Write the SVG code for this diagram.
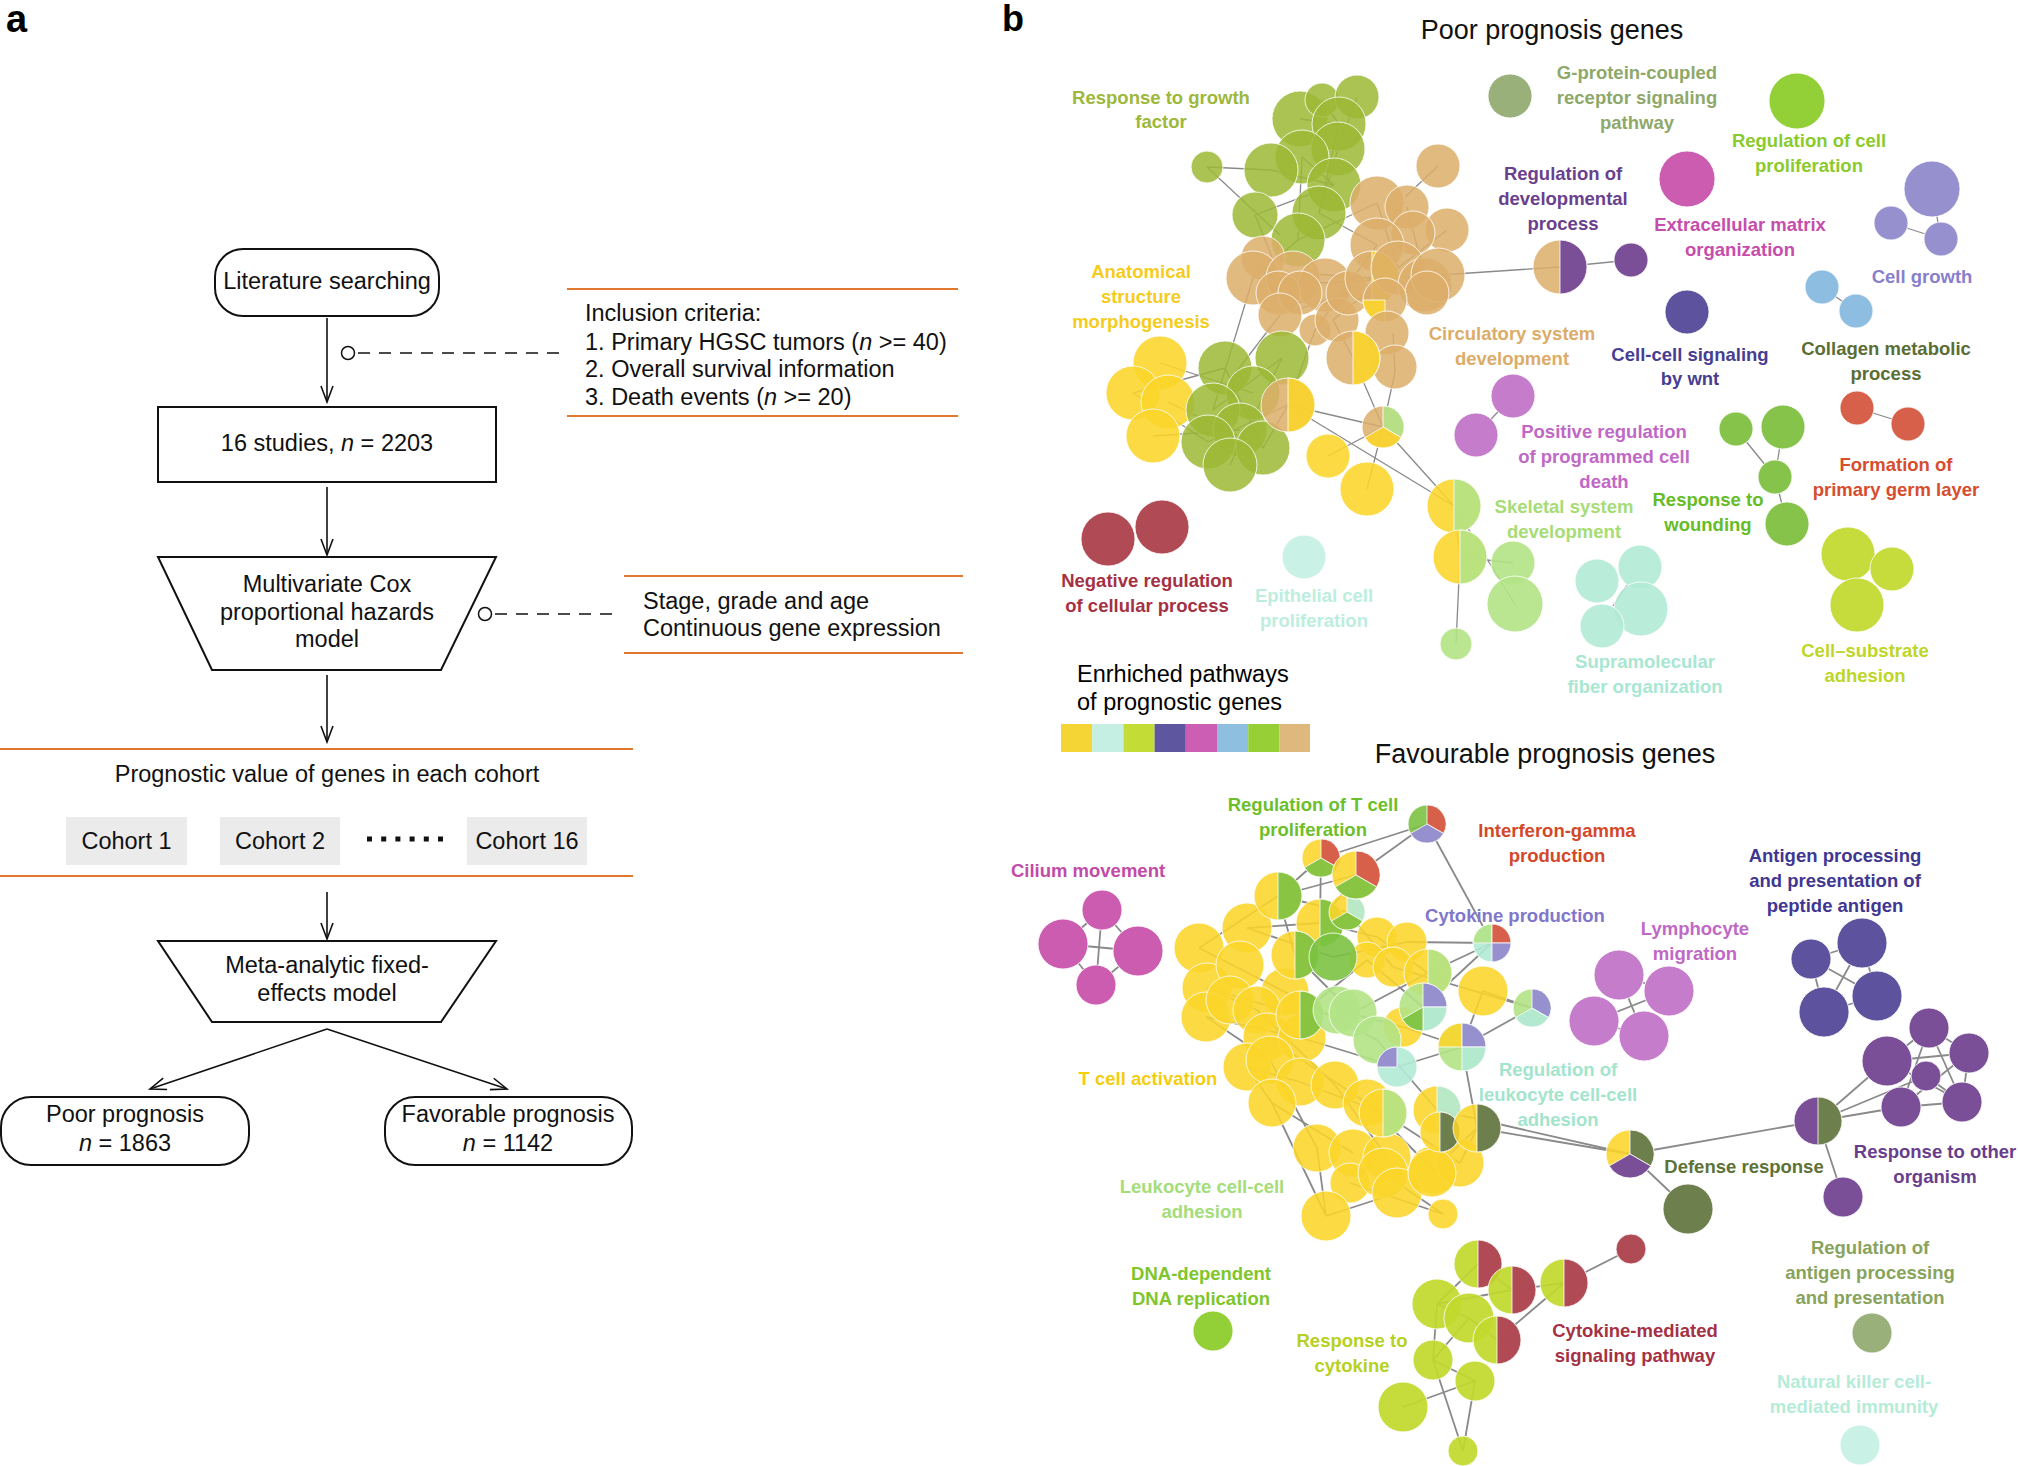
<svg xmlns="http://www.w3.org/2000/svg" width="2018" height="1466" viewBox="0 0 2018 1466">
<defs>
<style>
text{font-family:"Liberation Sans",Arial,sans-serif}
.ft{font-size:23.5px;fill:#111}
.fm{text-anchor:middle}
.bx{fill:#fff;stroke:#111;stroke-width:2}
.cb{fill:#ebebeb}
.or{stroke:#e0782f;stroke-width:2}
.ar{stroke:#111;stroke-width:1.6;fill:none}
.dl{stroke:#111;stroke-width:1.5;stroke-dasharray:12 9}
.lb{font-size:18.5px;font-weight:bold;text-anchor:middle}
.ttl{font-size:27px;fill:#111}
.e line{stroke:#8a8a8a;stroke-width:1.3}
.eb line{stroke:#8a8a8a;stroke-width:1.8}
.n circle,.n path{stroke:#fff;stroke-width:1;stroke-opacity:.8}
.y{fill:#fbd52a;fill-opacity:.88}
.ol{fill:#9cb935;fill-opacity:.85}
.t{fill:#dcae6a;fill-opacity:.85}
.lg{fill:#b3e386;fill-opacity:.9}
.mt{fill:#b2ead6;fill-opacity:.9}
.li{fill:#c1d92c;fill-opacity:.92}
.in{fill:#5c529d}
.mg{fill:#cb5cb0}
.lbl{fill:#8dbde0}
.gr{fill:#93cf36}
.gw{fill:#86c34b}
.gt{fill:#7cc242;fill-opacity:.9}
.dr{fill:#b04b56}
.pu{fill:#7a4f98}
.sg{fill:#9ab07a}
.ro{fill:#d6604a}
.lv{fill:#9690cf}
.do{fill:#6e7f4e}
.oc{fill:#c57dcb}
</style>
<marker id="ah" viewBox="-18 -8 20 16" refX="0" refY="0" markerWidth="20" markerHeight="16" markerUnits="userSpaceOnUse" orient="auto">
<path d="M-16,-6 L0,0 L-16,6" fill="none" stroke="#111" stroke-width="1.6"/>
</marker>
</defs>
<rect width="2018" height="1466" fill="#fff"/>

<!-- Panel a -->
<text x="6" y="32" style="font-size:38px;font-weight:bold">a</text>

<g id="connectors-a">
<line class="ar" x1="327" y1="318" x2="327" y2="402" marker-end="url(#ah)"/>
<line class="ar" x1="327" y1="487" x2="327" y2="555" marker-end="url(#ah)"/>
<line class="ar" x1="327" y1="675" x2="327" y2="742" marker-end="url(#ah)"/>
<line class="ar" x1="327" y1="892" x2="327" y2="939" marker-end="url(#ah)"/>
<line class="ar" x1="327" y1="1029" x2="150" y2="1089" marker-end="url(#ah)"/>
<line class="ar" x1="327" y1="1029" x2="507" y2="1089" marker-end="url(#ah)"/>
<circle cx="348" cy="353" r="6.5" fill="none" stroke="#111" stroke-width="1.5"/>
<line class="dl" x1="358" y1="353" x2="567" y2="353"/>
<circle cx="485" cy="614" r="6.5" fill="none" stroke="#111" stroke-width="1.5"/>
<line class="dl" x1="495" y1="614" x2="613" y2="614"/>
</g>

<g id="node-literature">
<rect class="bx" x="215" y="249" width="224" height="67" rx="28"/>
<text class="ft fm" x="327" y="289">Literature searching</text>
</g>
<g id="node-inclusion">
<line class="or" x1="567" y1="289" x2="958" y2="289"/>
<line class="or" x1="567" y1="416" x2="958" y2="416"/>
<text class="ft" x="585" y="321">Inclusion criteria:</text>
<text class="ft" x="585" y="350">1. Primary HGSC tumors (<tspan font-style="italic">n</tspan> &gt;= 40)</text>
<text class="ft" x="585" y="377">2. Overall survival information</text>
<text class="ft" x="585" y="405">3. Death events (<tspan font-style="italic">n</tspan> &gt;= 20)</text>
</g>
<g id="node-studies">
<rect class="bx" x="158" y="407" width="338" height="75"/>
<text class="ft fm" x="327" y="451">16 studies, <tspan font-style="italic">n</tspan> = 2203</text>
</g>
<g id="node-cox">
<polygon class="bx" points="158,557 496,557 441,670 212,670"/>
<text class="ft fm" x="327" y="592">Multivariate Cox</text>
<text class="ft fm" x="327" y="620">proportional hazards</text>
<text class="ft fm" x="327" y="647">model</text>
</g>
<g id="node-covariates">
<line class="or" x1="624" y1="576" x2="963" y2="576"/>
<line class="or" x1="624" y1="653" x2="963" y2="653"/>
<text class="ft" x="643" y="609">Stage, grade and age</text>
<text class="ft" x="643" y="636">Continuous gene expression</text>
</g>
<g id="node-cohorts">
<line class="or" x1="0" y1="749" x2="633" y2="749"/>
<line class="or" x1="0" y1="876" x2="633" y2="876"/>
<text class="ft fm" x="327" y="782">Prognostic value of genes in each cohort</text>
<rect class="cb" x="66" y="817" width="121" height="48"/>
<rect class="cb" x="220" y="817" width="120" height="48"/>
<rect class="cb" x="467" y="817" width="120" height="48"/>
<text class="ft fm" x="126.5" y="849">Cohort 1</text>
<text class="ft fm" x="280" y="849">Cohort 2</text>
<text class="ft fm" x="527" y="849">Cohort 16</text>
<line x1="367" y1="839" x2="443" y2="839" stroke="#111" stroke-width="5" stroke-dasharray="5 9.2"/>
</g>
<g id="node-meta">
<polygon class="bx" points="158,941 496,941 441,1022 212,1022"/>
<text class="ft fm" x="327" y="973">Meta-analytic fixed-</text>
<text class="ft fm" x="327" y="1001">effects model</text>
</g>
<g id="node-poor">
<rect class="bx" x="1" y="1097" width="248" height="68" rx="30"/>
<text class="ft fm" x="125" y="1122">Poor prognosis</text>
<text class="ft fm" x="125" y="1151"><tspan font-style="italic">n</tspan> = 1863</text>
</g>
<g id="node-favorable">
<rect class="bx" x="385" y="1097" width="247" height="68" rx="30"/>
<text class="ft fm" x="508" y="1122">Favorable prognosis</text>
<text class="ft fm" x="508" y="1151"><tspan font-style="italic">n</tspan> = 1142</text>
</g>

<!-- Panel b -->
<text x="1002" y="31" style="font-size:36px;font-weight:bold">b</text>
<text class="ttl fm" x="1552" y="39">Poor prognosis genes</text>
<text class="ttl fm" x="1545" y="763">Favourable prognosis genes</text>

<g id="legend">
<text x="1077" y="682" style="font-size:23.5px">Enrhiched pathways</text>
<text x="1077" y="710" style="font-size:23.5px">of prognostic genes</text>
<rect x="1061" y="724" width="31.2" height="28" fill="#f5d535"/>
<rect x="1092.2" y="724" width="31.2" height="28" fill="#c5efe2"/>
<rect x="1123.4" y="724" width="31.2" height="28" fill="#c3dd36"/>
<rect x="1154.6" y="724" width="31.2" height="28" fill="#5f56a0"/>
<rect x="1185.8" y="724" width="31.2" height="28" fill="#cc5fb3"/>
<rect x="1217" y="724" width="31.2" height="28" fill="#8fbfe0"/>
<rect x="1248.2" y="724" width="31.2" height="28" fill="#97cf36"/>
<rect x="1279.4" y="724" width="30.6" height="28" fill="#deb87c"/>
</g>

<!-- connectors of the networks -->
<g id="connectors-b">
<g class="e">
<line x1="1207" y1="167" x2="1271" y2="170"/><line x1="1207" y1="167" x2="1280" y2="235"/>
<line x1="1300" y1="119" x2="1339" y2="124"/><line x1="1322" y1="100" x2="1339" y2="124"/>
<line x1="1357" y1="97" x2="1338" y2="149"/><line x1="1302" y1="157" x2="1334" y2="185"/>
<line x1="1271" y1="170" x2="1334" y2="185"/><line x1="1338" y1="149" x2="1319" y2="213"/>
<line x1="1302" y1="157" x2="1298" y2="240"/><line x1="1255" y1="215" x2="1334" y2="185"/>
<line x1="1298" y1="240" x2="1377" y2="203"/><line x1="1319" y1="213" x2="1377" y2="245"/>
<line x1="1255" y1="215" x2="1272" y2="257"/><line x1="1339" y1="124" x2="1319" y2="213"/>
<line x1="1298" y1="240" x2="1253" y2="278"/>
<line x1="1438" y1="166" x2="1405" y2="197"/><line x1="1377" y1="203" x2="1398" y2="268"/>
<line x1="1407" y1="207" x2="1427" y2="285"/><line x1="1447" y1="230" x2="1398" y2="268"/>
<line x1="1253" y1="278" x2="1328" y2="283"/><line x1="1297" y1="273" x2="1372" y2="278"/>
<line x1="1328" y1="283" x2="1438" y2="275"/><line x1="1280" y1="315" x2="1348" y2="293"/>
<line x1="1333" y1="320" x2="1398" y2="268"/><line x1="1315" y1="330" x2="1377" y2="245"/>
<line x1="1280" y1="315" x2="1230" y2="380"/><line x1="1253" y1="278" x2="1213" y2="410"/>
<line x1="1315" y1="330" x2="1288" y2="405"/><line x1="1333" y1="320" x2="1353" y2="358"/>
<line x1="1393" y1="333" x2="1395" y2="372"/><line x1="1395" y1="372" x2="1383" y2="427"/>
<line x1="1353" y1="358" x2="1383" y2="427"/><line x1="1288" y1="405" x2="1383" y2="427"/>
<line x1="1328" y1="456" x2="1383" y2="427"/><line x1="1367" y1="489" x2="1383" y2="427"/>
<line x1="1383" y1="427" x2="1454" y2="506"/><line x1="1288" y1="405" x2="1454" y2="506"/>
<line x1="1454" y1="506" x2="1460" y2="557"/><line x1="1460" y1="557" x2="1456" y2="644"/>
<line x1="1460" y1="557" x2="1513" y2="563"/><line x1="1454" y1="506" x2="1515" y2="604"/>
<line x1="1440" y1="275" x2="1560" y2="267"/><line x1="1560" y1="267" x2="1631" y2="260"/>
<line x1="1133" y1="393" x2="1225" y2="368"/><line x1="1160" y1="363" x2="1253" y2="393"/>
<line x1="1168" y1="402" x2="1263" y2="448"/><line x1="1153" y1="436" x2="1240" y2="430"/>
<line x1="1213" y1="410" x2="1282" y2="358"/><line x1="1208" y1="442" x2="1288" y2="405"/>
<line x1="1230" y1="465" x2="1282" y2="358"/><line x1="1263" y1="448" x2="1288" y2="405"/>
<line x1="1225" y1="368" x2="1263" y2="448"/><line x1="1133" y1="393" x2="1208" y2="442"/>
<line x1="1932" y1="189" x2="1941" y2="239"/><line x1="1891" y1="223" x2="1941" y2="239"/>
<line x1="1822" y1="287" x2="1856" y2="311"/>
<line x1="1857" y1="408" x2="1908" y2="424"/>
<line x1="1736" y1="429" x2="1775" y2="477"/><line x1="1783" y1="427" x2="1775" y2="477"/>
<line x1="1775" y1="477" x2="1787" y2="524"/>
<line x1="1513" y1="396" x2="1476" y2="435"/>
<line x1="1627" y1="585" x2="1613" y2="606"/>
</g>
<g class="eb">
<line x1="1102" y1="910" x2="1063" y2="944"/><line x1="1102" y1="910" x2="1138" y2="951"/>
<line x1="1063" y1="944" x2="1096" y2="985"/><line x1="1138" y1="951" x2="1096" y2="985"/>
<line x1="1102" y1="910" x2="1096" y2="985"/><line x1="1063" y1="944" x2="1138" y2="951"/>
<line x1="1199" y1="948" x2="1278" y2="896"/><line x1="1199" y1="948" x2="1285" y2="992"/>
<line x1="1247" y1="928" x2="1320" y2="923"/><line x1="1247" y1="928" x2="1333" y2="957"/>
<line x1="1207" y1="988" x2="1300" y2="1015"/><line x1="1206" y1="1017" x2="1270" y2="1060"/>
<line x1="1206" y1="1017" x2="1302" y2="1038"/><line x1="1278" y1="896" x2="1295" y2="955"/>
<line x1="1278" y1="896" x2="1347" y2="912"/><line x1="1321" y1="858" x2="1320" y2="923"/>
<line x1="1320" y1="923" x2="1377" y2="937"/><line x1="1333" y1="957" x2="1407" y2="942"/>
<line x1="1347" y1="912" x2="1393" y2="967"/><line x1="1295" y1="955" x2="1353" y2="1013"/>
<line x1="1285" y1="992" x2="1377" y2="1040"/><line x1="1257" y1="1010" x2="1335" y2="1085"/>
<line x1="1267" y1="1037" x2="1367" y2="1103"/><line x1="1302" y1="1038" x2="1397" y2="1067"/>
<line x1="1300" y1="1082" x2="1383" y2="1113"/><line x1="1270" y1="1060" x2="1317" y2="1148"/>
<line x1="1272" y1="1103" x2="1353" y2="1153"/><line x1="1272" y1="1103" x2="1326" y2="1216"/>
<line x1="1247" y1="1067" x2="1272" y2="1103"/><line x1="1335" y1="1085" x2="1387" y2="1157"/>
<line x1="1367" y1="1103" x2="1433" y2="1170"/><line x1="1383" y1="1113" x2="1460" y2="1163"/>
<line x1="1403" y1="1027" x2="1462" y2="1047"/><line x1="1423" y1="1007" x2="1492" y2="943"/>
<line x1="1428" y1="973" x2="1492" y2="943"/><line x1="1407" y1="942" x2="1492" y2="943"/>
<line x1="1393" y1="967" x2="1532" y2="1008"/><line x1="1462" y1="1047" x2="1532" y2="1008"/>
<line x1="1483" y1="991" x2="1532" y2="1008"/><line x1="1462" y1="1047" x2="1397" y2="1067"/>
<line x1="1437" y1="1110" x2="1630" y2="1154"/><line x1="1477" y1="1128" x2="1630" y2="1154"/>
<line x1="1462" y1="1047" x2="1477" y2="1128"/><line x1="1326" y1="1216" x2="1397" y2="1193"/>
<line x1="1350" y1="1183" x2="1443" y2="1214"/><line x1="1383" y1="1173" x2="1443" y2="1214"/>
<line x1="1317" y1="1148" x2="1326" y2="1216"/><line x1="1353" y1="1013" x2="1428" y2="973"/>
<line x1="1377" y1="1040" x2="1437" y2="1110"/><line x1="1337" y1="1010" x2="1403" y2="1027"/>
<line x1="1300" y1="1015" x2="1367" y2="960"/><line x1="1247" y1="1067" x2="1300" y2="1082"/>
<line x1="1207" y1="988" x2="1257" y2="1010"/><line x1="1377" y1="937" x2="1428" y2="973"/>
<line x1="1367" y1="960" x2="1423" y2="1007"/><line x1="1320" y1="923" x2="1356" y2="875"/>
<line x1="1278" y1="896" x2="1321" y2="858"/><line x1="1278" y1="896" x2="1356" y2="875"/>
<line x1="1321" y1="858" x2="1427" y2="824"/><line x1="1356" y1="875" x2="1427" y2="824"/>
<line x1="1427" y1="824" x2="1492" y2="943"/><line x1="1483" y1="991" x2="1462" y2="1047"/>
<line x1="1433" y1="1170" x2="1477" y2="1128"/><line x1="1460" y1="1163" x2="1477" y2="1128"/>
<line x1="1630" y1="1154" x2="1818" y2="1121"/><line x1="1630" y1="1154" x2="1688" y2="1209"/>
<line x1="1818" y1="1121" x2="1887" y2="1061"/><line x1="1818" y1="1121" x2="1926" y2="1076"/>
<line x1="1818" y1="1121" x2="1901" y2="1107"/><line x1="1818" y1="1121" x2="1843" y2="1197"/>
<line x1="1929" y1="1028" x2="1887" y2="1061"/><line x1="1929" y1="1028" x2="1969" y2="1053"/>
<line x1="1929" y1="1028" x2="1901" y2="1107"/><line x1="1929" y1="1028" x2="1962" y2="1102"/>
<line x1="1887" y1="1061" x2="1969" y2="1053"/><line x1="1887" y1="1061" x2="1962" y2="1102"/>
<line x1="1969" y1="1053" x2="1962" y2="1102"/><line x1="1969" y1="1053" x2="1901" y2="1107"/>
<line x1="1901" y1="1107" x2="1962" y2="1102"/><line x1="1926" y1="1076" x2="1962" y2="1102"/>
<line x1="1811" y1="959" x2="1862" y2="943"/><line x1="1811" y1="959" x2="1824" y2="1012"/>
<line x1="1862" y1="943" x2="1877" y2="996"/><line x1="1824" y1="1012" x2="1877" y2="996"/>
<line x1="1811" y1="959" x2="1877" y2="996"/><line x1="1862" y1="943" x2="1824" y2="1012"/>
<line x1="1619" y1="975" x2="1669" y2="991"/><line x1="1594" y1="1021" x2="1669" y2="991"/>
<line x1="1619" y1="975" x2="1644" y2="1036"/><line x1="1594" y1="1021" x2="1644" y2="1036"/>
<line x1="1478" y1="1264" x2="1437" y2="1304"/><line x1="1478" y1="1264" x2="1512" y2="1290"/>
<line x1="1437" y1="1304" x2="1469" y2="1318"/><line x1="1437" y1="1304" x2="1433" y2="1360"/>
<line x1="1469" y1="1318" x2="1497" y2="1340"/><line x1="1433" y1="1360" x2="1475" y2="1381"/>
<line x1="1433" y1="1360" x2="1463" y2="1451"/><line x1="1475" y1="1381" x2="1463" y2="1451"/>
<line x1="1403" y1="1407" x2="1475" y2="1381"/><line x1="1469" y1="1318" x2="1433" y2="1360"/>
<line x1="1512" y1="1290" x2="1564" y2="1283"/><line x1="1497" y1="1340" x2="1564" y2="1283"/>
<line x1="1564" y1="1283" x2="1631" y2="1249"/><line x1="1437" y1="1304" x2="1512" y2="1290"/>
</g>
</g>

<!-- Poor prognosis network nodes -->
<g id="poor-network" class="n">
<g id="node-growth-factor">
<circle class="ol" cx="1300" cy="119" r="28"/><circle class="ol" cx="1322" cy="100" r="17"/>
<circle class="ol" cx="1357" cy="97" r="22"/><circle class="ol" cx="1339" cy="124" r="27"/>
<circle class="ol" cx="1338" cy="149" r="27"/><circle class="ol" cx="1302" cy="157" r="27"/>
<circle class="ol" cx="1271" cy="170" r="27"/><circle class="ol" cx="1207" cy="167" r="16"/>
<circle class="ol" cx="1334" cy="185" r="27"/><circle class="ol" cx="1319" cy="213" r="27"/>
<circle class="ol" cx="1255" cy="215" r="23"/><circle class="ol" cx="1298" cy="240" r="27"/>
</g>
<g id="node-circulatory">
<circle class="t" cx="1438" cy="166" r="22"/><circle class="t" cx="1447" cy="230" r="22"/>
<circle class="t" cx="1377" cy="203" r="27"/><circle class="t" cx="1407" cy="207" r="22"/>
<circle class="t" cx="1413" cy="233" r="22"/><circle class="t" cx="1377" cy="245" r="27"/>
<circle class="t" cx="1263" cy="258" r="22"/><circle class="t" cx="1253" cy="278" r="27"/>
<circle class="t" cx="1293" cy="278" r="27"/><circle class="t" cx="1325" cy="285" r="27"/>
<circle class="t" cx="1278" cy="293" r="22"/><circle class="t" cx="1300" cy="293" r="22"/>
<circle class="t" cx="1280" cy="315" r="22"/><circle class="t" cx="1315" cy="330" r="16"/>
<circle class="t" cx="1337" cy="320" r="22"/><circle class="t" cx="1348" cy="293" r="22"/>
<circle class="t" cx="1372" cy="278" r="27"/><path class="y" d="M1372,251 A27,27 0 0 1 1372,305 Z"/>
<circle class="t" cx="1398" cy="268" r="27"/><circle class="t" cx="1425" cy="285" r="27"/>
<circle class="t" cx="1438" cy="275" r="27"/><circle class="t" cx="1427" cy="293" r="22"/>
<circle class="t" cx="1385" cy="300" r="22"/><path class="y" d="M1385,300 L1385,322 A22,22 0 0 1 1363,300 Z"/>
<circle class="t" cx="1387" cy="333" r="22"/><circle class="t" cx="1395" cy="367" r="22"/>
<circle class="t" cx="1353" cy="358" r="27"/><path class="y" d="M1353,331 A27,27 0 0 1 1353,385 Z"/>
</g>
<g id="node-anatomical">
<circle class="y" cx="1160" cy="363" r="27"/><circle class="y" cx="1133" cy="393" r="27"/>
<circle class="y" cx="1168" cy="402" r="27"/><circle class="y" cx="1153" cy="436" r="27"/>
<circle class="ol" cx="1225" cy="368" r="27"/><circle class="ol" cx="1282" cy="358" r="27"/>
<circle class="ol" cx="1253" cy="393" r="27"/><circle class="ol" cx="1213" cy="410" r="27"/>
<circle class="ol" cx="1240" cy="430" r="27"/><circle class="ol" cx="1208" cy="442" r="27"/>
<circle class="ol" cx="1263" cy="448" r="27"/><circle class="ol" cx="1230" cy="465" r="27"/>
<circle class="t" cx="1288" cy="405" r="27"/><path class="y" d="M1288,378 A27,27 0 0 1 1288,432 Z"/>
<circle class="y" cx="1328" cy="456" r="22"/><circle class="y" cx="1367" cy="489" r="27"/>
<circle class="t" cx="1383" cy="427" r="21"/>
<path class="lg" d="M1383,427 L1383,406 A21,21 0 0 1 1401.2,437.5 Z"/>
<path class="y" d="M1383,427 L1401.2,437.5 A21,21 0 0 1 1364.8,437.5 Z"/>
</g>
<g id="node-skeletal">
<circle class="y" cx="1454" cy="506" r="27"/><path class="lg" d="M1454,479 A27,27 0 0 1 1454,533 Z"/>
<circle class="y" cx="1460" cy="557" r="27"/><path class="lg" d="M1460,530 A27,27 0 0 1 1460,584 Z"/>
<circle class="lg" cx="1513" cy="563" r="22"/><circle class="lg" cx="1515" cy="604" r="28"/>
<circle class="lg" cx="1456" cy="644" r="16"/>
</g>
<g id="node-devproc">
<circle class="t" cx="1560" cy="267" r="27"/><path class="pu" d="M1560,240 A27,27 0 0 1 1560,294 Z"/>
<circle class="pu" cx="1631" cy="260" r="17"/>
</g>
<g id="node-gpcr"><circle class="sg" cx="1510" cy="96" r="22"/></g>
<g id="node-cellprolif"><circle class="gr" cx="1797" cy="101" r="28"/></g>
<g id="node-ecm"><circle class="mg" cx="1687" cy="179" r="28"/></g>
<g id="node-cellgrowth">
<circle class="lv" cx="1932" cy="189" r="28"/><circle class="lv" cx="1891" cy="223" r="17"/><circle class="lv" cx="1941" cy="239" r="17"/>
</g>
<g id="node-collagen"><circle class="lbl" cx="1822" cy="287" r="17"/><circle class="lbl" cx="1856" cy="311" r="17"/></g>
<g id="node-wnt"><circle class="in" cx="1687" cy="312" r="22"/></g>
<g id="node-pcd"><circle class="oc" cx="1513" cy="396" r="22"/><circle class="oc" cx="1476" cy="435" r="22"/></g>
<g id="node-wounding">
<circle class="gw" cx="1736" cy="429" r="17"/><circle class="gw" cx="1783" cy="427" r="22"/>
<circle class="gw" cx="1775" cy="477" r="17"/><circle class="gw" cx="1787" cy="524" r="22"/>
</g>
<g id="node-germ"><circle class="ro" cx="1857" cy="408" r="17"/><circle class="ro" cx="1908" cy="424" r="17"/></g>
<g id="node-substrate">
<circle class="li" cx="1848" cy="554" r="27"/><circle class="li" cx="1892" cy="569" r="22"/><circle class="li" cx="1857" cy="605" r="27"/>
</g>
<g id="node-supra">
<circle class="mt" cx="1597" cy="581" r="22"/><circle class="mt" cx="1640" cy="567" r="22"/>
<circle class="mt" cx="1641" cy="609" r="27"/><circle class="mt" cx="1602" cy="626" r="22"/>
</g>
<g id="node-negreg"><circle class="dr" cx="1108" cy="539" r="27"/><circle class="dr" cx="1162" cy="527" r="27"/></g>
<g id="node-epithelial"><circle class="mt" cx="1304" cy="557" r="22" style="fill:#c4efe2"/></g>
</g>

<!-- Favourable prognosis network nodes -->
<g id="fav-network" class="n">
<g id="node-cilium">
<circle class="mg" cx="1102" cy="910" r="20"/><circle class="mg" cx="1063" cy="944" r="25"/>
<circle class="mg" cx="1138" cy="951" r="25"/><circle class="mg" cx="1096" cy="985" r="20"/>
</g>
<g id="node-tcell">
<circle class="y" cx="1199" cy="948" r="25"/><circle class="y" cx="1247" cy="928" r="25"/>
<circle class="y" cx="1207" cy="988" r="25"/><circle class="y" cx="1206" cy="1017" r="25"/>
<circle class="y" cx="1240" cy="965" r="24"/><circle class="y" cx="1230" cy="1000" r="24"/>
<circle class="y" cx="1285" cy="992" r="24"/><circle class="y" cx="1257" cy="1010" r="24"/>
<circle class="y" cx="1267" cy="1037" r="24"/><circle class="y" cx="1302" cy="1038" r="24"/>
<circle class="y" cx="1247" cy="1067" r="24"/><circle class="y" cx="1270" cy="1060" r="24"/>
<circle class="y" cx="1300" cy="1082" r="24"/><circle class="y" cx="1272" cy="1103" r="24"/>
<circle class="y" cx="1335" cy="1085" r="24"/><circle class="y" cx="1367" cy="1103" r="24"/>
<circle class="y" cx="1317" cy="1148" r="24"/><circle class="y" cx="1353" cy="1153" r="24"/>
<circle class="y" cx="1387" cy="1157" r="24"/><circle class="y" cx="1433" cy="1170" r="24"/>
<circle class="y" cx="1460" cy="1163" r="24"/><circle class="y" cx="1350" cy="1183" r="20"/>
<circle class="y" cx="1383" cy="1173" r="25"/><circle class="y" cx="1397" cy="1193" r="25"/>
<circle class="y" cx="1432" cy="1173" r="24"/><circle class="y" cx="1326" cy="1216" r="25"/>
<circle class="y" cx="1443" cy="1214" r="15"/>
<circle class="y" cx="1377" cy="937" r="20"/><circle class="y" cx="1407" cy="942" r="20"/>
<circle class="y" cx="1367" cy="960" r="18"/><circle class="y" cx="1393" cy="967" r="20"/>
<circle class="y" cx="1403" cy="1027" r="20"/><circle class="y" cx="1483" cy="991" r="25"/>
<circle class="y" cx="1278" cy="896" r="24"/><path class="gt" d="M1278,872 A24,24 0 0 1 1278,920 Z"/>
<circle class="y" cx="1320" cy="923" r="24"/><path class="gt" d="M1320,899 A24,24 0 0 1 1320,947 Z"/>
<circle class="y" cx="1295" cy="955" r="24"/><path class="gt" d="M1295,931 A24,24 0 0 1 1295,979 Z"/>
<circle class="gt" cx="1333" cy="957" r="24"/>
<circle class="y" cx="1347" cy="912" r="18"/>
<path class="mt" d="M1347,912 L1347,894 A18,18 0 0 1 1362.6,921 Z"/>
<path class="gt" d="M1347,912 L1362.6,921 A18,18 0 0 1 1331.4,921 Z"/>
<circle class="y" cx="1300" cy="1015" r="24"/><path class="gt" d="M1300,991 A24,24 0 0 1 1300,1039 Z"/>
<circle class="lg" cx="1337" cy="1010" r="24"/><circle class="lg" cx="1353" cy="1013" r="24"/>
<circle class="lg" cx="1377" cy="1040" r="24"/>
<circle class="y" cx="1428" cy="973" r="24"/><path class="lg" d="M1428,949 A24,24 0 0 1 1428,997 Z"/>
<circle class="lg" cx="1423" cy="1007" r="24"/>
<path class="lv" d="M1423,1007 L1423,983 A24,24 0 0 1 1447,1007 Z"/>
<path class="mt" d="M1423,1007 L1447,1007 A24,24 0 0 1 1423,1031 Z"/>
<path class="gt" d="M1423,1007 L1423,1031 A24,24 0 0 1 1402.2,1019 Z"/>
<circle class="mt" cx="1397" cy="1067" r="20"/><path class="lv" d="M1397,1067 L1377,1067 A20,20 0 0 1 1397,1047 Z"/>
<circle class="y" cx="1383" cy="1113" r="24"/><path class="lg" d="M1383,1089 A24,24 0 0 1 1383,1137 Z"/>
<circle class="y" cx="1437" cy="1110" r="24"/><path class="mt" d="M1437,1086 A24,24 0 0 1 1437,1134 Z"/>
<circle class="y" cx="1440" cy="1132" r="20"/><path class="do" d="M1440,1112 A20,20 0 0 1 1440,1152 Z"/>
</g>
<g id="node-tprolif">
<circle class="y" cx="1321" cy="858" r="19"/>
<path class="ro" d="M1321,858 L1321,839 A19,19 0 0 1 1337.5,867.5 Z"/>
<path class="gt" d="M1321,858 L1337.5,867.5 A19,19 0 0 1 1304.5,867.5 Z"/>
<circle class="y" cx="1356" cy="875" r="24"/>
<path class="ro" d="M1356,875 L1356,851 A24,24 0 0 1 1376.8,887 Z"/>
<path class="gt" d="M1356,875 L1376.8,887 A24,24 0 0 1 1335.2,887 Z"/>
</g>
<g id="node-ifng">
<circle class="gt" cx="1427" cy="824" r="19"/>
<path class="ro" d="M1427,824 L1427,805 A19,19 0 0 1 1443.5,833.5 Z"/>
<path class="lv" d="M1427,824 L1443.5,833.5 A19,19 0 0 1 1410.5,833.5 Z"/>
</g>
<g id="node-cytokine-prod">
<circle class="mt" cx="1492" cy="943" r="19"/>
<path class="lg" d="M1492,943 L1473,943 A19,19 0 0 1 1492,924 Z"/>
<path class="ro" d="M1492,943 L1492,924 A19,19 0 0 1 1511,943 Z"/>
<path class="lv" d="M1492,943 L1511,943 A19,19 0 0 1 1492,962 Z"/>
<circle class="lg" cx="1532" cy="1008" r="19"/>
<path class="lv" d="M1532,1008 L1532,989 A19,19 0 0 1 1548.5,1017.5 Z"/>
<path class="mt" d="M1532,1008 L1548.5,1017.5 A19,19 0 0 1 1515.5,1017.5 Z"/>
</g>
<g id="node-leukadh">
<circle class="lg" cx="1462" cy="1047" r="24"/>
<path class="y" d="M1462,1047 L1438,1047 A24,24 0 0 1 1462,1023 Z"/>
<path class="lv" d="M1462,1047 L1462,1023 A24,24 0 0 1 1486,1047 Z"/>
<path class="mt" d="M1462,1047 L1486,1047 A24,24 0 0 1 1462,1071 Z"/>
<circle class="y" cx="1477" cy="1128" r="24"/><path class="do" d="M1477,1104 A24,24 0 0 1 1477,1152 Z"/>
</g>
<g id="node-lymph">
<circle class="oc" cx="1619" cy="975" r="25"/><circle class="oc" cx="1669" cy="991" r="25"/>
<circle class="oc" cx="1594" cy="1021" r="25"/><circle class="oc" cx="1644" cy="1036" r="25"/>
</g>
<g id="node-antigen">
<circle class="in" cx="1811" cy="959" r="20"/><circle class="in" cx="1862" cy="943" r="25"/>
<circle class="in" cx="1877" cy="996" r="25"/><circle class="in" cx="1824" cy="1012" r="25"/>
</g>
<g id="node-other-org">
<circle class="pu" cx="1929" cy="1028" r="20"/><circle class="pu" cx="1887" cy="1061" r="25"/>
<circle class="pu" cx="1969" cy="1053" r="20"/><circle class="pu" cx="1926" cy="1076" r="15"/>
<circle class="pu" cx="1901" cy="1107" r="20"/><circle class="pu" cx="1962" cy="1102" r="20"/>
<circle class="pu" cx="1843" cy="1197" r="20"/>
<circle class="pu" cx="1818" cy="1121" r="24"/><path class="do" d="M1818,1097 A24,24 0 0 1 1818,1145 Z"/>
</g>
<g id="node-defense">
<circle class="y" cx="1630" cy="1154" r="24"/>
<path class="do" d="M1630,1154 L1630,1130 A24,24 0 0 1 1650.8,1166 Z"/>
<path class="pu" d="M1630,1154 L1650.8,1166 A24,24 0 0 1 1609.2,1166 Z"/>
<circle class="do" cx="1688" cy="1209" r="25"/>
</g>
<g id="node-cytokine">
<circle class="li" cx="1437" cy="1304" r="25"/><circle class="li" cx="1469" cy="1318" r="25"/>
<circle class="li" cx="1433" cy="1360" r="20"/><circle class="li" cx="1475" cy="1381" r="20"/>
<circle class="li" cx="1403" cy="1407" r="25"/><circle class="li" cx="1463" cy="1451" r="15"/>
<circle class="li" cx="1478" cy="1264" r="24"/><path class="dr" d="M1478,1240 A24,24 0 0 1 1478,1288 Z"/>
<circle class="li" cx="1512" cy="1290" r="24"/><path class="dr" d="M1512,1266 A24,24 0 0 1 1512,1314 Z"/>
<circle class="li" cx="1497" cy="1340" r="24"/><path class="dr" d="M1497,1316 A24,24 0 0 1 1497,1364 Z"/>
<circle class="li" cx="1564" cy="1283" r="24"/><path class="dr" d="M1564,1259 A24,24 0 0 1 1564,1307 Z"/>
<circle class="dr" cx="1631" cy="1249" r="15"/>
</g>
<g id="node-dna"><circle class="gr" cx="1213" cy="1331" r="20"/></g>
<g id="node-reg-antigen"><circle class="sg" cx="1872" cy="1333" r="20"/></g>
<g id="node-nk"><circle class="mt" cx="1860" cy="1445" r="20" style="fill:#c4efe2"/></g>
</g>

<!-- labels -->
<g id="labels">
<text class="lb" fill="#9db83a" x="1161" y="104">Response to growth</text>
<text class="lb" fill="#9db83a" x="1161" y="128">factor</text>
<text class="lb" fill="#f5cc1c" x="1141" y="278">Anatomical</text>
<text class="lb" fill="#f5cc1c" x="1141" y="303">structure</text>
<text class="lb" fill="#f5cc1c" x="1141" y="328">morphogenesis</text>
<text class="lb" fill="#dcac68" x="1512" y="340">Circulatory system</text>
<text class="lb" fill="#dcac68" x="1512" y="365">development</text>
<text class="lb" fill="#6a3f8e" x="1563" y="180">Regulation of</text>
<text class="lb" fill="#6a3f8e" x="1563" y="205">developmental</text>
<text class="lb" fill="#6a3f8e" x="1563" y="230">process</text>
<text class="lb" fill="#8ea86a" x="1637" y="79">G-protein-coupled</text>
<text class="lb" fill="#8ea86a" x="1637" y="104">receptor signaling</text>
<text class="lb" fill="#8ea86a" x="1637" y="129">pathway</text>
<text class="lb" fill="#8acb2c" x="1809" y="147">Regulation of cell</text>
<text class="lb" fill="#8acb2c" x="1809" y="172">proliferation</text>
<text class="lb" fill="#c64dac" x="1740" y="231">Extracellular matrix</text>
<text class="lb" fill="#c64dac" x="1740" y="256">organization</text>
<text class="lb" fill="#887fcb" x="1922" y="283">Cell growth</text>
<text class="lb" fill="#473d92" x="1690" y="361">Cell-cell signaling</text>
<text class="lb" fill="#473d92" x="1690" y="385">by wnt</text>
<text class="lb" fill="#5b6d35" x="1886" y="355">Collagen metabolic</text>
<text class="lb" fill="#5b6d35" x="1886" y="380">process</text>
<text class="lb" fill="#c068c6" x="1604" y="438">Positive regulation</text>
<text class="lb" fill="#c068c6" x="1604" y="463">of programmed cell</text>
<text class="lb" fill="#c068c6" x="1604" y="488">death</text>
<text class="lb" fill="#a6dc76" x="1564" y="513">Skeletal system</text>
<text class="lb" fill="#a6dc76" x="1564" y="538">development</text>
<text class="lb" fill="#66bc26" x="1708" y="506">Response to</text>
<text class="lb" fill="#66bc26" x="1708" y="531">wounding</text>
<text class="lb" fill="#d64e2e" x="1896" y="471">Formation of</text>
<text class="lb" fill="#d64e2e" x="1896" y="496">primary germ layer</text>
<text class="lb" fill="#bdd627" x="1865" y="657">Cell–substrate</text>
<text class="lb" fill="#bdd627" x="1865" y="682">adhesion</text>
<text class="lb" fill="#a8e7d1" x="1645" y="668">Supramolecular</text>
<text class="lb" fill="#a8e7d1" x="1645" y="693">fiber organization</text>
<text class="lb" fill="#a53144" x="1147" y="587">Negative regulation</text>
<text class="lb" fill="#a53144" x="1147" y="612">of cellular process</text>
<text class="lb" fill="#bdeedd" x="1314" y="602">Epithelial cell</text>
<text class="lb" fill="#bdeedd" x="1314" y="627">proliferation</text>

<text class="lb" fill="#6bbf2a" x="1313" y="811">Regulation of T cell</text>
<text class="lb" fill="#6bbf2a" x="1313" y="836">proliferation</text>
<text class="lb" fill="#d4482a" x="1557" y="837">Interferon-gamma</text>
<text class="lb" fill="#d4482a" x="1557" y="862">production</text>
<text class="lb" fill="#c24aa8" x="1088" y="877">Cilium movement</text>
<text class="lb" fill="#8077cb" x="1515" y="922">Cytokine production</text>
<text class="lb" fill="#c068c6" x="1695" y="935">Lymphocyte</text>
<text class="lb" fill="#c068c6" x="1695" y="960">migration</text>
<text class="lb" fill="#3f3791" x="1835" y="862">Antigen processing</text>
<text class="lb" fill="#3f3791" x="1835" y="887">and presentation of</text>
<text class="lb" fill="#3f3791" x="1835" y="912">peptide antigen</text>
<text class="lb" fill="#f5cd0f" x="1148" y="1085">T cell activation</text>
<text class="lb" fill="#a2e5cc" x="1558" y="1076">Regulation of</text>
<text class="lb" fill="#a2e5cc" x="1558" y="1101">leukocyte cell-cell</text>
<text class="lb" fill="#a2e5cc" x="1558" y="1126">adhesion</text>
<text class="lb" fill="#5d7236" x="1744" y="1173">Defense response</text>
<text class="lb" fill="#693d8d" x="1935" y="1158">Response to other</text>
<text class="lb" fill="#693d8d" x="1935" y="1183">organism</text>
<text class="lb" fill="#a4dd79" x="1202" y="1193">Leukocyte cell-cell</text>
<text class="lb" fill="#a4dd79" x="1202" y="1218">adhesion</text>
<text class="lb" fill="#7ec62a" x="1201" y="1280">DNA-dependent</text>
<text class="lb" fill="#7ec62a" x="1201" y="1305">DNA replication</text>
<text class="lb" fill="#b6d11e" x="1352" y="1347">Response to</text>
<text class="lb" fill="#b6d11e" x="1352" y="1372">cytokine</text>
<text class="lb" fill="#a53144" x="1635" y="1337">Cytokine-mediated</text>
<text class="lb" fill="#a53144" x="1635" y="1362">signaling pathway</text>
<text class="lb" fill="#87a35c" x="1870" y="1254">Regulation of</text>
<text class="lb" fill="#87a35c" x="1870" y="1279">antigen processing</text>
<text class="lb" fill="#87a35c" x="1870" y="1304">and presentation</text>
<text class="lb" fill="#b4ecd8" x="1854" y="1388">Natural killer cell-</text>
<text class="lb" fill="#b4ecd8" x="1854" y="1413">mediated immunity</text>
</g>
</svg>
